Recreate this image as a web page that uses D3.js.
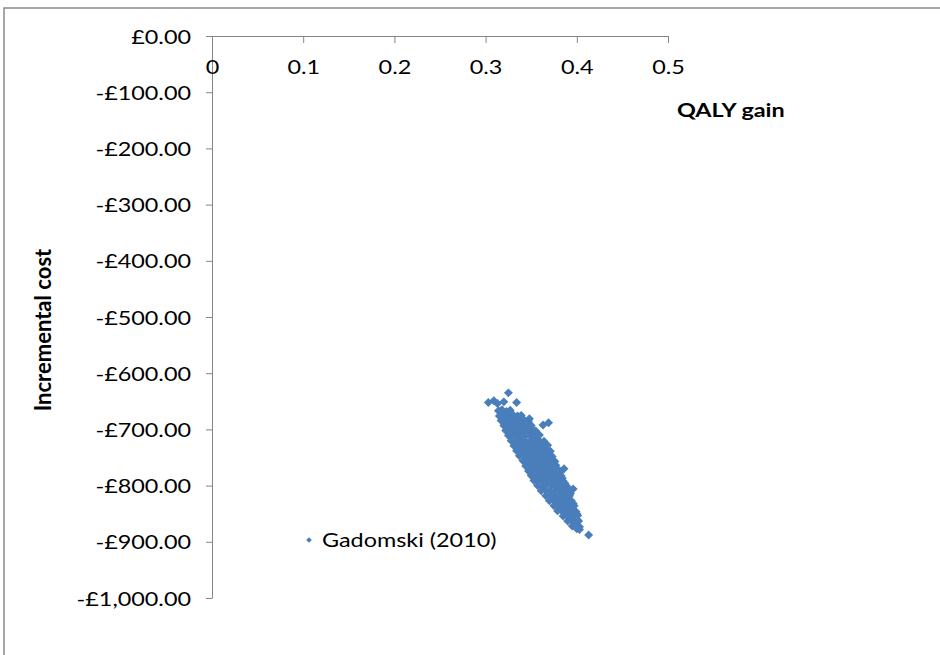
<!DOCTYPE html>
<html>
<head>
<meta charset="utf-8">
<script src="https://cdn.jsdelivr.net/npm/d3@7"></script>
<style>
  html, body { margin: 0; padding: 0; background: #fff; }
  svg { display: block; }
  text { font-family: Lato, "Open Sans", sans-serif; fill: #000; }
</style>
</head>
<body>
<svg id="chart" width="940" height="655"></svg>
<script>
// ---- data ----
const seriesName = "Gadomski (2010)";
const xTicks = [0, 0.1, 0.2, 0.3, 0.4, 0.5];
const xTickLabels = ["0", "0.1", "0.2", "0.3", "0.4", "0.5"];
const yTicks = [0, -100, -200, -300, -400, -500, -600, -700, -800, -900, -1000];
const yTickLabels = ["£0.00", "-£100.00", "-£200.00", "-£300.00", "-£400.00", "-£500.00",
                     "-£600.00", "-£700.00", "-£800.00", "-£900.00", "-£1,000.00"];
const xTitle = "QALY gain";
const yTitle = "Incremental cost";

// QALY gain values
const qaly = [
  0.325, 0.303, 0.309, 0.313, 0.320, 0.334, 0.3165, 0.348, 0.363, 0.369, 0.413,
  0.314, 0.318, 0.323, 0.327,
  0.315, 0.320, 0.325, 0.330, 0.335, 0.339,
  0.317, 0.322, 0.327, 0.332, 0.337, 0.342, 0.347,
  0.320, 0.325, 0.330, 0.335, 0.340, 0.345, 0.350,
  0.322, 0.327, 0.332, 0.337, 0.342, 0.347, 0.352, 0.355,
  0.325, 0.330, 0.335, 0.340, 0.345, 0.350, 0.355, 0.359,
  0.328, 0.333, 0.338, 0.343, 0.348, 0.353, 0.358, 0.364,
  0.331, 0.336, 0.341, 0.346, 0.351, 0.356, 0.361, 0.365, 0.368,
  0.334, 0.339, 0.344, 0.349, 0.354, 0.359, 0.364, 0.368, 0.371,
  0.337, 0.342, 0.347, 0.352, 0.357, 0.362, 0.366, 0.370, 0.373,
  0.341, 0.346, 0.351, 0.356, 0.361, 0.366, 0.370, 0.374, 0.376,
  0.344, 0.349, 0.354, 0.359, 0.364, 0.369, 0.373, 0.377, 0.386,
  0.347, 0.352, 0.357, 0.362, 0.367, 0.372, 0.376, 0.380, 0.382,
  0.350, 0.355, 0.360, 0.365, 0.370, 0.375, 0.379, 0.383,
  0.353, 0.358, 0.363, 0.368, 0.373, 0.378, 0.382, 0.385,
  0.357, 0.362, 0.367, 0.372, 0.377, 0.381, 0.385, 0.389,
  0.361, 0.366, 0.371, 0.376, 0.380, 0.384, 0.388, 0.396,
  0.366, 0.371, 0.376, 0.380, 0.384, 0.388, 0.392,
  0.370, 0.375, 0.380, 0.384, 0.388, 0.392, 0.394,
  0.375, 0.379, 0.383, 0.387, 0.391, 0.395, 0.397,
  0.379, 0.383, 0.387, 0.391, 0.395, 0.399,
  0.385, 0.389, 0.393, 0.397, 0.401,
  0.390, 0.394, 0.398, 0.402,
  0.395, 0.399, 0.403,
  0.400, 0.403,
  // in-between fill values
  0.319, 0.329, 0.339, 0.344, 0.334, 0.349, 0.338, 0.353, 0.343, 0.357,
  0.347, 0.362, 0.352, 0.366, 0.356, 0.370, 0.360, 0.374, 0.365, 0.378,
  0.369, 0.381, 0.374, 0.384, 0.378, 0.387, 0.383, 0.390, 0.387, 0.393,
  0.392, 0.396, 0.396, 0.400
];
// Incremental cost values (same order)
const cost = [
  -635, -652, -649, -654, -651, -652, -667, -681, -692, -688, -888,
  -667, -665, -668, -666,
  -676, -675, -677, -674, -676, -675,
  -684, -685, -683, -686, -684, -683, -685,
  -693, -692, -694, -693, -692, -694, -693,
  -702, -703, -701, -702, -704, -702, -701, -703,
  -711, -710, -712, -711, -710, -712, -711, -710,
  -720, -721, -719, -720, -722, -720, -719, -721,
  -729, -728, -730, -729, -728, -730, -729, -731, -728,
  -738, -737, -739, -738, -737, -739, -738, -737, -739,
  -747, -746, -748, -747, -746, -748, -747, -746, -748,
  -756, -755, -757, -756, -755, -757, -756, -755, -757,
  -765, -764, -766, -765, -764, -766, -765, -764, -770,
  -774, -773, -775, -774, -773, -775, -774, -773, -775,
  -782, -783, -781, -782, -783, -781, -782, -783,
  -791, -792, -790, -791, -792, -790, -791, -792,
  -800, -801, -799, -800, -801, -799, -800, -801,
  -809, -808, -810, -809, -808, -810, -809, -806,
  -818, -817, -819, -818, -817, -819, -818,
  -827, -826, -828, -827, -826, -828, -827,
  -836, -835, -837, -836, -835, -837, -836,
  -845, -844, -846, -845, -844, -846,
  -854, -853, -855, -854, -853,
  -863, -862, -864, -863,
  -872, -871, -873,
  -877, -878,
  -680, -689, -697, -698, -707, -707, -716, -716, -725, -725,
  -733, -734, -742, -743, -751, -752, -760, -760, -769, -769,
  -778, -778, -787, -787, -796, -796, -805, -805, -813, -814,
  -831, -832, -849, -850
];

// ---- layout ----
const svg = d3.select("#chart");
const color = "#4a7ebb";
const sx = 1.2; // horizontal text stretch of the reference
const fontSize = 19.5;

const x = d3.scaleLinear().domain([0, 0.5]).range([212, 668]);
const y = d3.scaleLinear().domain([0, -1000]).range([36, 598]);

// outer border
svg.append("rect")
  .attr("x", 4).attr("y", 8).attr("width", 1000).attr("height", 800)
  .attr("fill", "none").attr("stroke", "#8a8a8a").attr("stroke-width", 1.5);

// y axis
const yAxis = svg.append("g")
  .attr("transform", `translate(${x(0)},0)`)
  .call(d3.axisLeft(y).tickValues(yTicks).tickFormat((d, i) => yTickLabels[i])
        .tickSize(6).tickSizeOuter(0));
yAxis.select(".domain").attr("stroke", "#868686");
yAxis.selectAll(".tick line").attr("stroke", "#868686");
yAxis.selectAll(".tick text")
  .attr("x", -21 / sx).attr("dy", "0.36em")
  .attr("transform", `scale(${sx},1)`)
  .style("font-size", fontSize + "px").style("font-family", "Lato").attr("fill", "#000");

// x axis
const xAxis = svg.append("g")
  .attr("transform", `translate(0,${y(0)})`)
  .call(d3.axisBottom(x).tickValues(xTicks).tickFormat((d, i) => xTickLabels[i])
        .tickSize(7).tickSizeOuter(0));
xAxis.select(".domain").attr("stroke", "#868686");
xAxis.selectAll(".tick line").attr("stroke", "#868686");
xAxis.selectAll(".tick text")
  .attr("y", 31).attr("dy", "0.36em")
  .attr("transform", `scale(${sx},1)`)
  .style("font-size", fontSize + "px").style("font-family", "Lato").attr("fill", "#000");

// axis titles
svg.append("text")
  .attr("transform", `translate(677,117) scale(${sx},1)`)
  .style("font-size", fontSize + "px").style("font-weight", "bold")
  .text(xTitle);
svg.append("text")
  .attr("transform", `translate(51,330) rotate(-90)`)
  .attr("text-anchor", "middle")
  .style("font-size", "22px").style("font-weight", "bold")
  .text(yTitle);

// points
const diamond = d3.symbol().type(d3.symbolSquare).size(40)();
const pts = qaly.map((q, i) => ({ q, c: cost[i] }));
svg.append("g").selectAll("path").data(pts).join("path")
  .attr("d", diamond)
  .attr("transform", d => `translate(${x(d.q)},${y(d.c)}) rotate(45)`)
  .attr("fill", color);

// legend
svg.append("path")
  .attr("d", d3.symbol().type(d3.symbolSquare).size(16)())
  .attr("transform", "translate(309,540) rotate(45)")
  .attr("fill", color);
svg.append("text")
  .attr("transform", `translate(322,540) scale(${sx},1)`)
  .attr("dy", "0.36em")
  .style("font-size", fontSize + "px")
  .text(seriesName);
</script>
</body>
</html>
